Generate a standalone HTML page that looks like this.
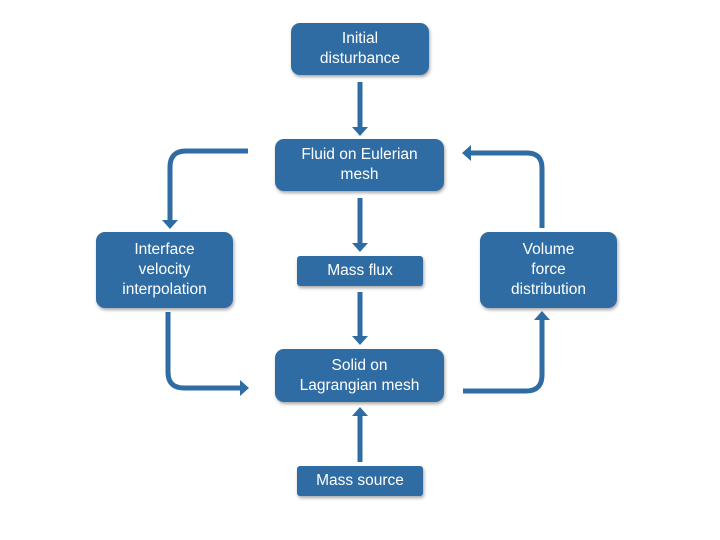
<!DOCTYPE html>
<html><head><style>
body{margin:0;width:720px;height:540px;background:#fff;overflow:hidden;position:relative;font-family:"Liberation Sans",sans-serif}
.b{position:absolute;background:#2f6ca3;color:#fff;border-radius:9px;display:flex;align-items:center;justify-content:center;text-align:center;font-size:15.5px;line-height:20px;box-shadow:1px 2px 3px rgba(0,0,0,.35)}
.s{border-radius:3px}
svg{position:absolute;left:0;top:0}
</style></head><body>
<svg width="720" height="540">
<defs><marker id="a" markerWidth="3.2" markerHeight="3.2" refX="0.6" refY="1.6" orient="auto"><path d="M0,0 L1.8,1.6 L0,3.2 Z" fill="#2f6ca3"/></marker></defs>
<g stroke="#2f6ca3" stroke-width="5" fill="none" marker-end="url(#a)">
<path d="M360 82 V130"/>
<path d="M360 198 V246"/>
<path d="M360 292 V339"/>
<path d="M360 462 V413"/>
<path d="M248 151 H186 Q170 151 170 167 V223"/>
<path d="M168 312 V372 Q168 388 184 388 H243"/>
<path d="M463 391 H526 Q542 391 542 375 V317"/>
<path d="M542 228 V168 Q542 153 527 153 H468"/>
</g></svg>
<div class="b" style="left:291px;top:23px;width:138px;height:52px">Initial<br>disturbance</div>
<div class="b" style="left:275px;top:139px;width:169px;height:52px">Fluid on Eulerian<br>mesh</div>
<div class="b s" style="left:297px;top:256px;width:126px;height:30px">Mass flux</div>
<div class="b" style="left:96px;top:232px;width:137px;height:76px">Interface<br>velocity<br>interpolation</div>
<div class="b" style="left:480px;top:232px;width:137px;height:76px">Volume<br>force<br>distribution</div>
<div class="b" style="left:275px;top:349px;width:169px;height:53px">Solid on<br>Lagrangian mesh</div>
<div class="b s" style="left:297px;top:466px;width:126px;height:30px">Mass source</div>
</body></html>
